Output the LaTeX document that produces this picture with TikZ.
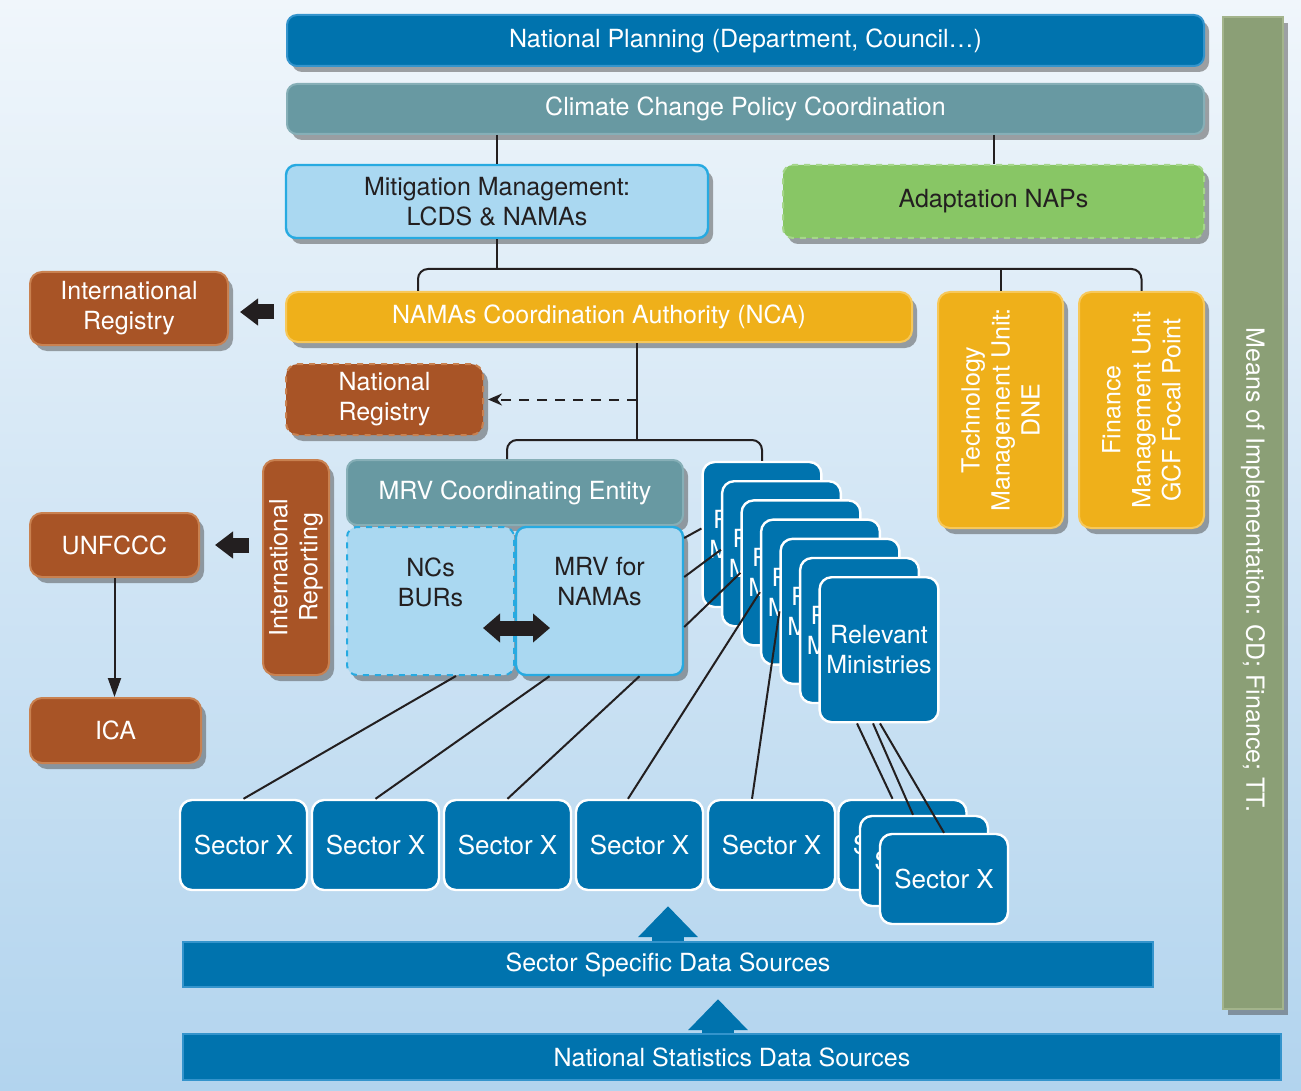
\documentclass[tikz,border=0pt]{standalone}
\usepackage{fontspec}
\setmainfont{TeX Gyre Heros}
\usepackage{xcolor}
\usepackage{tikz}
\usetikzlibrary{arrows.meta, positioning, shadows, calc}

\definecolor{planblue}{RGB}{0,115,174}
\definecolor{planedge}{RGB}{52,148,204}
\definecolor{policyteal}{RGB}{104,153,162}
\definecolor{policyedge}{RGB}{134,175,183}
\definecolor{mitfill}{RGB}{170,216,241}
\definecolor{mitedge}{RGB}{39,170,225}
\definecolor{adaptgreen}{RGB}{136,198,101}
\definecolor{adaptedge}{RGB}{165,214,138}
\definecolor{ncagold}{RGB}{239,176,26}
\definecolor{ncaedge}{RGB}{247,200,90}
\definecolor{regbrown}{RGB}{168,84,38}
\definecolor{regedge}{RGB}{201,129,80}
\definecolor{meansgreen}{RGB}{139,159,118}
\definecolor{meansedge}{RGB}{163,180,140}
\definecolor{inkdark}{RGB}{35,31,32}
\definecolor{bgtop}{RGB}{240,246,251}
\definecolor{bgbottom}{RGB}{178,212,238}

\begin{document}
\begin{tikzpicture}[
    x=0.5pt, y=-0.5pt,
    every node/.style={font=\fontsize{12.5}{15}\selectfont},
    % Node styles
    unitbox/.style={rectangle, rounded corners=5pt, line width=1pt, align=center, inner sep=2pt,
        drop shadow={shadow xshift=2.5pt, shadow yshift=-3pt, fill=black!70, opacity=0.5}},
    planbox/.style={unitbox, fill=planblue, draw=planedge, text=white},
    policybox/.style={unitbox, fill=policyteal, draw=policyedge, text=white},
    mitbox/.style={unitbox, fill=mitfill, draw=mitedge, text=inkdark, line width=1.2pt},
    adaptbox/.style={unitbox, fill=adaptgreen, draw=adaptedge, text=inkdark, dashed},
    ncabox/.style={unitbox, fill=ncagold, draw=ncaedge, text=white, rounded corners=6pt},
    regbox/.style={unitbox, fill=regbrown, draw=regedge, text=white, rounded corners=6pt},
    meansbar/.style={rectangle, fill=meansgreen, draw=meansedge, line width=1pt,
        drop shadow={shadow xshift=2.5pt, shadow yshift=-3pt, fill=black!70, opacity=0.5}},
    card/.style={rectangle, rounded corners=6pt, fill=planblue, draw=white, line width=1.2pt, text=white, align=center},
    databar/.style={rectangle, fill=planblue, draw=planedge, line width=0.8pt, text=white},
    % Connector styles
    link/.style={draw=inkdark, line width=1pt},
    dashlink/.style={link, dash pattern=on 5pt off 4pt, -{Stealth[length=7pt, width=6pt]}},
    thinarrow/.style={link, -{Triangle[length=9.5pt, width=6.5pt]}},
    blockarrow/.style={draw=inkdark, line width=7.5pt, -{Triangle[length=9pt, width=13pt]}},
    blockboth/.style={draw=inkdark, line width=7.5pt, {Triangle[length=8.5pt, width=14pt]}-{Triangle[length=8.5pt, width=14pt]}},
    dataarrow/.style={draw=planblue, line width=16pt, -{Triangle[length=15.5pt, width=29pt]}},
]

% Background
\useasboundingbox (0,0) rectangle (1301,1091);
\shade[top color=bgtop, bottom color=bgbottom] (0,0) rectangle (1301,1091);

% Planning levels
\node[planbox, minimum width=458.5pt, minimum height=25.5pt] (natplan) at (745.5,40.5) {National Planning (Department, Council…)};
\node[policybox, minimum width=458.5pt, minimum height=25pt] (ccpc) at (745.5,109) {Climate Change Policy Coordination};
\node[mitbox, minimum width=211pt, minimum height=36.5pt] (mitig) at (497,201.5) {Mitigation Management:\\LCDS \& NAMAs};
\node[adaptbox, minimum width=210.5pt, minimum height=36.5pt] (adapt) at (993.5,201.5) {Adaptation NAPs};

% Means of implementation bar
\node[meansbar, minimum width=30pt, minimum height=496pt] (means) at (1253,513) {};
\node[rotate=-90, text=white] at ([yshift=-28.5pt]means.center) {Means of Implementation: CD; Finance; TT.};

% NCA level
\node[ncabox, minimum width=313pt, minimum height=25pt] (nca) at (599,317) {NAMAs Coordination Authority (NCA)};
\node[ncabox, minimum width=62.5pt, minimum height=118pt] (tmu) at (1000.5,410) {};
\node[rotate=90, text=white, align=center] at (tmu) {Technology\\Management Unit:\\DNE};
\node[ncabox, minimum width=62.5pt, minimum height=118pt] (fmu) at (1141.5,410) {};
\node[rotate=90, text=white, align=center] at (fmu) {Finance\\Management Unit\\GCF Focal Point};

% Registries and reporting (left)
\node[regbox, minimum width=99pt, minimum height=36.5pt] (intreg) at (129,308.5) {International\\Registry};
\node[regbox, dashed, minimum width=98.5pt, minimum height=35.5pt] (natreg) at (384.5,399.5) {National\\Registry};
\node[regbox, minimum width=33pt, minimum height=107.5pt] (intrep) at (296,567.5) {};
\node[rotate=90, text=white, align=center] at (intrep) {International\\Reporting};
\node[regbox, minimum width=84.5pt, minimum height=32pt] (unfccc) at (114.5,545) {UNFCCC};
\node[regbox, minimum width=85.5pt, minimum height=32.5pt] (ica) at (115.5,730.5) {ICA};

% MRV block
\node[policybox, minimum width=168pt, minimum height=32.5pt] (mrvce) at (515,492.5) {MRV Coordinating Entity};
\node[mitbox, dashed, line width=1pt, minimum width=83.5pt, minimum height=74pt] (ncs) at (430.5,601) {};
\node[text=inkdark, align=center] at ([yshift=9.5pt]ncs.center) {NCs\\BURs};
\node[mitbox, minimum width=83.5pt, minimum height=74pt] (mrvn) at (599.5,601) {};
\node[text=inkdark, align=center] at ([yshift=9.5pt]mrvn.center) {MRV for\\NAMAs};

% Relevant ministries (stacked cards)
\foreach \i in {0,...,6} {
    \node[card, minimum width=59pt, minimum height=72.5pt] (min\i) at ({762+19.5*\i},{534.5+19.2*\i}) {Relevant\\Ministries};
}

% Sectors
\foreach \i in {1,...,5} {
    \node[card, minimum width=63.5pt, minimum height=45pt, font=\fontsize{13}{15}\selectfont] (sec\i) at ({111.5+132*\i},845) {Sector X};
}
\node[card, minimum width=64pt, minimum height=45pt, font=\fontsize{13}{15}\selectfont] (secA) at (902.5,845) {Sector X};
\node[card, minimum width=64pt, minimum height=45pt, font=\fontsize{13}{15}\selectfont] (secB) at (924,861) {Sector X};
\node[card, minimum width=64pt, minimum height=45pt, font=\fontsize{13}{15}\selectfont] (secC) at (944,879) {Sector X};

% Data sources
\node[databar, minimum width=485pt, minimum height=22.5pt] (ssds) at (668,964.5) {Sector Specific Data Sources};
\node[databar, minimum width=549pt, minimum height=23pt] (nsds) at (732,1057) {National Statistics Data Sources};
\draw[dataarrow] (ssds.north) -- ++(0,-35);
\draw[dataarrow] ([xshift=-7pt]nsds.north) -- ++(0,-34);

% Hierarchy connectors
\coordinate (planbus) at (0,269);
\coordinate (mrvbus) at (0,440);
\coordinate (ncadrop) at ([xshift=19pt]nca.south);
\draw[link] (mitig.north |- ccpc.south) -- (mitig.north);
\draw[link] (adapt.north |- ccpc.south) -- (adapt.north);
\draw[link] (mitig.south) -- (mitig.south |- planbus);
\draw[link, rounded corners=5pt] ([xshift=-90.5pt]nca.north) |- (fmu.north |- planbus) -- (fmu.north);
\draw[link] (tmu.north) -- (tmu.north |- planbus);
\draw[link] (ncadrop) -- (ncadrop |- mrvbus);
\draw[link, rounded corners=5pt] ([xshift=-4pt]mrvce.north) |- (min0.north |- mrvbus) -- (min0.north);
\draw[dashlink] (ncadrop |- natreg.east) -- ([xshift=2pt]natreg.east);

% Reporting arrows
\draw[blockarrow] ([xshift=22.5pt, yshift=-1.75pt]intreg.east) -- ([xshift=5.5pt, yshift=-1.75pt]intreg.east);
\draw[blockarrow] ([xshift=24.5pt]unfccc.east) -- ([xshift=7.5pt]unfccc.east);
\draw[blockboth] ([xshift=-16pt, yshift=-13.5pt]ncs.east) -- ([xshift=17.5pt, yshift=-13.5pt]ncs.east);
\draw[thinarrow] (unfccc.south) -- (unfccc.south |- ica.north);

% MRV to ministries and sectors
\draw[link] ([yshift=31.5pt]mrvn.east) -- ([yshift=3pt]min0.west);
\draw[link] ([yshift=12pt]mrvn.east) -- ([yshift=2pt]min1.west);
\draw[link] ([yshift=-13pt]mrvn.east) -- (min2.west);
\draw[link] (sec1.north) -- ([xshift=12.75pt]ncs.south);
\draw[link] (sec2.north) -- ([xshift=-25pt]mrvn.south);
\draw[link] (sec3.north) -- ([xshift=20pt]mrvn.south);
\draw[link] ([xshift=-5.75pt]sec4.north) -- (min3.west);
\draw[link] ([xshift=-9.75pt]sec5.north) -- (min4.west);
\draw[link] ([xshift=-11pt]min6.south) -- ([xshift=-5pt]secA.north);
\draw[link] ([xshift=-3pt]min6.south) -- ([xshift=-5.5pt]secB.north);
\draw[link] ([xshift=0.5pt]min6.south) -- (secC.north);

\end{tikzpicture}
\end{document}
